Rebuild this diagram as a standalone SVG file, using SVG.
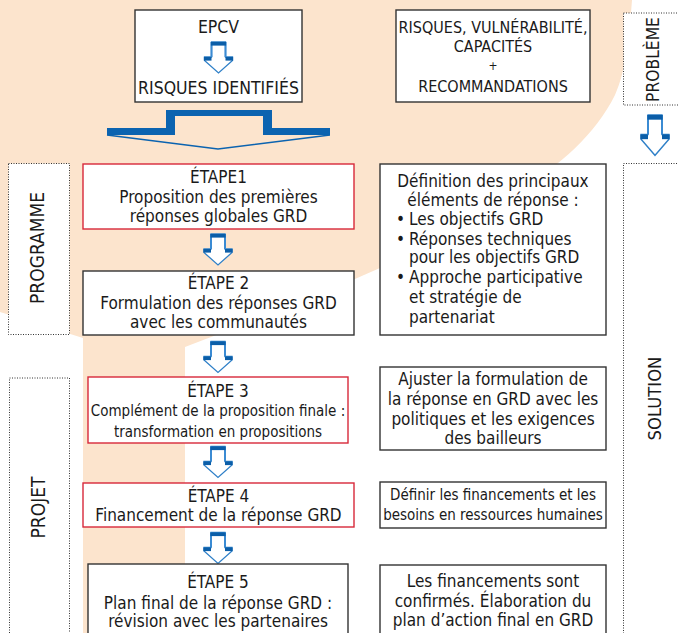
<svg xmlns="http://www.w3.org/2000/svg" xmlns:xlink="http://www.w3.org/1999/xlink" width="678" height="633" viewBox="0 0 678 633">
<style>
.t{font-family:"DejaVu Sans Condensed","DejaVu Sans",sans-serif;font-size:17px;fill:#1a1a1a;text-anchor:middle}
.s{font-size:15px}
.c{font-size:16px}
.e{font-size:17.5px}
.v{font-size:19px}
.l{text-anchor:start}
.bx{fill:#fff;stroke:#333;stroke-width:1.4}
.rd{fill:#fff;stroke:#d8283a;stroke-width:1.4}
.dt{fill:#fff;stroke:#333;stroke-width:1;stroke-dasharray:1 1.5}
</style>
<defs>
<g id="arr">
<path d="M-7,0 H7 V15 H14 V18.5 L0,31 L-14,18.5 V15 H-7 Z" fill="#fff" stroke="#2f80c8" stroke-width="1.3"/>
<line x1="-7" y1="0" x2="-7" y2="15" stroke="#3b8bd3" stroke-width="2"/>
<line x1="7" y1="0" x2="7" y2="15" stroke="#3b8bd3" stroke-width="2"/>
<rect x="-7.6" y="0" width="15.2" height="3.6" fill="#0b5ea8"/>
<rect x="-14.6" y="15" width="7.6" height="3.6" fill="#0b5ea8"/>
<rect x="7" y="15" width="7.6" height="3.6" fill="#0b5ea8"/>
</g>
</defs>
<rect width="678" height="633" fill="#fff"/>
<path d="M0,0 H632 C629,40 626,70 615,95 C595,135 560,165 520,190 C470,222 420,250 380,268 C320,295 250,322 185,347 L185,633 L83,633 L83,338 L0,312 Z" fill="#fce4cd"/>

<g id="epcv">
<rect class="bx" x="135" y="10" width="167" height="92"/>
<text class="t e" x="218.5" y="32.5">EPCV</text>
<text class="t e" x="218.5" y="94">RISQUES IDENTIFIÉS</text>
</g>

<g id="risques">
<rect class="bx" x="396" y="10" width="194" height="92"/>
<text class="t c" x="493" y="33.3">RISQUES, VULNÉRABILITÉ,</text>
<text class="t c" x="493" y="51.7">CAPACITÉS</text>
<text class="t" x="493" y="70" style="font-size:12px">+</text>
<text class="t c" x="493" y="91.7">RECOMMANDATIONS</text>
</g>

<g id="probleme">
<rect class="dt" x="623.5" y="13" width="60" height="92"/>
<text class="t" style="font-size:17.3px" transform="translate(659,59.5) rotate(-90)">PROBLÈME</text>
</g>

<g id="solution">
<rect class="dt" x="623.5" y="163.5" width="60" height="480"/>
<text class="t" style="font-size:18.3px" transform="translate(661,398.5) rotate(-90)">SOLUTION</text>
</g>

<g id="programme">
<rect class="dt" x="8.5" y="163.5" width="61" height="171"/>
<text class="t v" transform="translate(44,248) rotate(-90)">PROGRAMME</text>
</g>

<g id="projet">
<rect class="dt" x="9.5" y="378" width="60" height="270"/>
<text class="t v" transform="translate(44.5,507.5) rotate(-90)">PROJET</text>
</g>

<g id="connectors">
<use xlink:href="#arr" transform="translate(218.5,42)"/>
<path d="M107,128 H166 V110 H272 V128 H330 V135 H263 V116 H175 V135 H107 Z" fill="#0b63b0"/>
<polyline points="107,135 218,149 330,135" fill="none" stroke="#0b63b0" stroke-width="1.5"/>
<use xlink:href="#arr" transform="translate(655,115) scale(1,1.3)"/>
<use xlink:href="#arr" transform="translate(218,234)"/>
<use xlink:href="#arr" transform="translate(218,341.5)"/>
<use xlink:href="#arr" transform="translate(218,446.5)"/>
<use xlink:href="#arr" transform="translate(218,532.5)"/>
</g>

<g id="etape1">
<rect class="rd" x="83" y="164" width="271" height="65"/>
<text class="t" x="218.5" y="183.3">ÉTAPE1</text>
<text class="t" x="218.5" y="203.3">Proposition des premières</text>
<text class="t" x="218.5" y="221.7">réponses globales GRD</text>
</g>

<g id="etape2">
<rect class="bx" x="83" y="271" width="271" height="64"/>
<text class="t" x="218.5" y="289.3">ÉTAPE 2</text>
<text class="t" x="218.5" y="309">Formulation des réponses GRD</text>
<text class="t" x="218.5" y="327.7">avec les communautés</text>
</g>

<g id="etape3">
<rect class="rd" x="88" y="377" width="260" height="66"/>
<text class="t" x="218" y="396.7">ÉTAPE 3</text>
<text class="t s" x="218" y="416">Complément de la proposition finale :</text>
<text class="t s" x="218" y="436.7">transformation en propositions</text>
</g>

<g id="etape4">
<rect class="rd" x="83" y="483" width="271" height="44"/>
<text class="t" x="218.5" y="502.3">ÉTAPE 4</text>
<text class="t" x="218.5" y="521">Financement de la réponse GRD</text>
</g>

<g id="etape5">
<rect class="bx" x="88" y="564" width="260" height="80"/>
<text class="t" x="218" y="588.3">ÉTAPE 5</text>
<text class="t" x="218" y="609.3">Plan final de la réponse GRD :</text>
<text class="t" x="218" y="627.3">révision avec les partenaires</text>
</g>

<g id="definition">
<rect class="bx" x="380" y="164" width="226" height="171"/>
<text class="t" x="493" y="187.3">Définition des principaux</text>
<text class="t" x="493" y="206">éléments de réponse :</text>
<text class="t l" x="396" y="225">•</text>
<text class="t l" x="409" y="225">Les objectifs GRD</text>
<text class="t l" x="396" y="245">•</text>
<text class="t l" x="409" y="245">Réponses techniques</text>
<text class="t l" x="409" y="263.3">pour les objectifs GRD</text>
<text class="t l" x="396" y="283.3">•</text>
<text class="t l" x="409" y="283.3">Approche participative</text>
<text class="t l" x="409" y="303.3">et stratégie de</text>
<text class="t l" x="409" y="323.3">partenariat</text>
</g>

<g id="ajuster">
<rect class="bx" x="380" y="367" width="226" height="83"/>
<text class="t" x="493" y="385">Ajuster la formulation de</text>
<text class="t" x="493" y="405">la réponse en GRD avec les</text>
<text class="t" x="493" y="425">politiques et les exigences</text>
<text class="t" x="493" y="444">des bailleurs</text>
</g>

<g id="definir">
<rect class="bx" x="380" y="482" width="226" height="46"/>
<text class="t s" x="493" y="500">Définir les financements et les</text>
<text class="t s" x="493" y="520">besoins en ressources humaines</text>
</g>

<g id="confirmes">
<rect class="bx" x="380" y="565" width="226" height="80"/>
<text class="t" x="493" y="586.7">Les financements sont</text>
<text class="t" x="493" y="606.7">confirmés. Élaboration du</text>
<text class="t" x="493" y="626">plan d’action final en GRD</text>
</g>
</svg>
